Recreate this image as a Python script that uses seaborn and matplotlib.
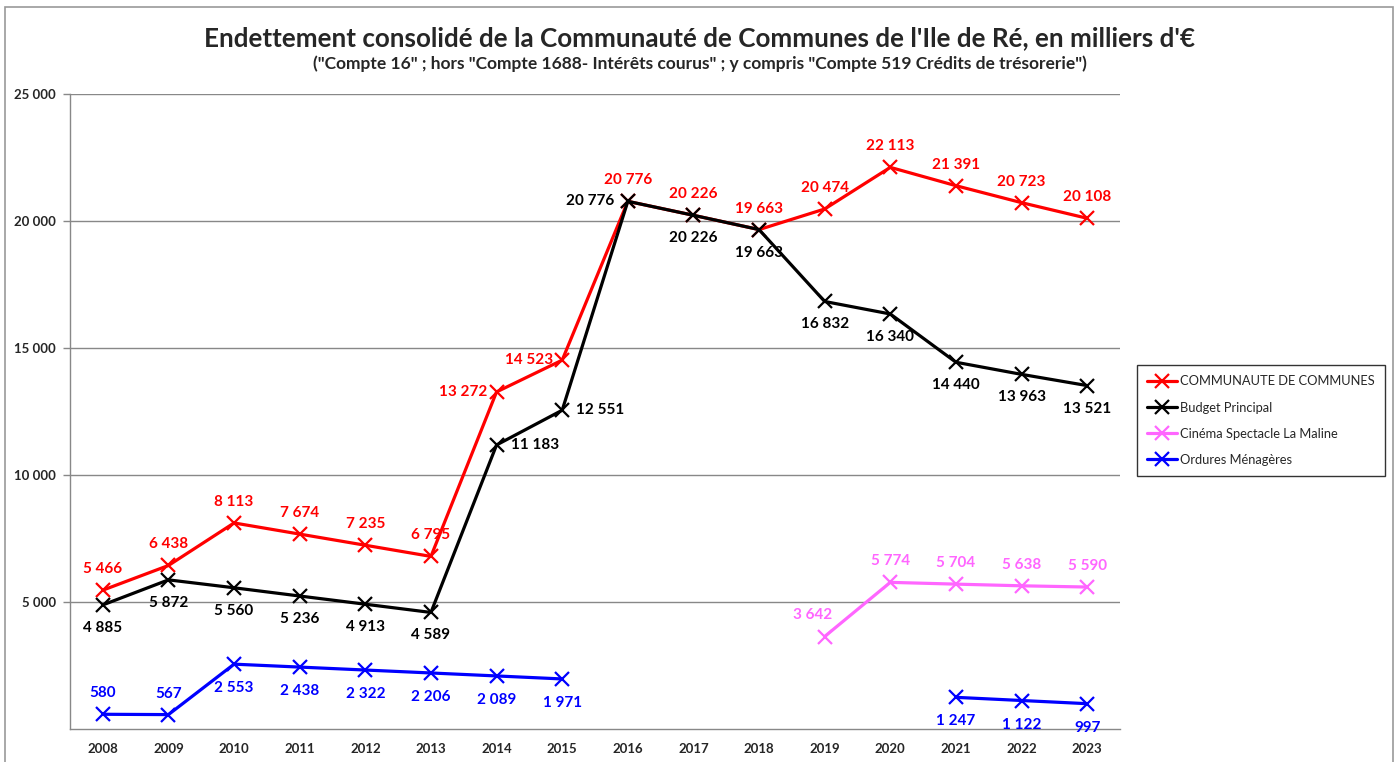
import numpy as np
import pandas as pd
import matplotlib
matplotlib.use("Agg")
import matplotlib.pyplot as plt
from matplotlib.lines import Line2D
from matplotlib.patches import Rectangle
import seaborn as sns

years = [str(y) for y in range(2008, 2024)]
communaute = [5466, 6438, 8113, 7674, 7235, 6795, 13272, 14523, 20776, 20226, 19663, 20474, 22113, 21391, 20723, 20108]
budget = [4885, 5872, 5560, 5236, 4913, 4589, 11183, 12551, 20776, 20226, 19663, 16832, 16340, 14440, 13963, 13521]
cinema = [np.nan] * 11 + [3642, 5774, 5704, 5638, 5590]
ordures = [580, 567, 2553, 2438, 2322, 2206, 2089, 1971, np.nan, np.nan, np.nan, np.nan, np.nan, 1247, 1122, 997]

series_names = ["COMMUNAUTE DE COMMUNES", "Budget Principal", "Cinéma Spectacle La Maline", "Ordures Ménagères"]
series_values = [communaute, budget, cinema, ordures]
colors = ["#FF0000", "#000000", "#FF66FF", "#0000FF"]

# label placement per series: (dx, dy, ha) in pixels
def place(name, i):
    if name == series_names[0]:
        if i in (6, 7):
            return (-9, 0, "right")
        return (0, 21, "center")
    if name == series_names[1]:
        if i in (6, 7):
            return (14, 0, "left")
        if i == 8:
            return (-14, 0, "right")
        return (0, -23, "center")
    if name == series_names[2]:
        if i == 11:
            return (-12, 22, "center")
        return (0, 21, "center")
    if i in (0, 1):
        return (0, 21, "center")
    return (0, -24, "center")

rows = []
for name, vals in zip(series_names, series_values):
    seg = 0
    prev_nan = True
    for i, v in enumerate(vals):
        if np.isnan(v):
            prev_nan = True
            continue
        if prev_nan:
            seg += 1
            prev_nan = False
        rows.append({"series": name, "x": i, "value": v, "segment": f"{name}-{seg}"})
df = pd.DataFrame(rows)

sns.set_style("white")
plt.rcParams["font.family"] = ["Lato", "DejaVu Sans"]

fig = plt.figure(figsize=(14, 7.62), dpi=100)
ax = fig.add_axes([0.05, 0.0433, 0.75, 0.8333])

sns.lineplot(data=df, x="x", y="value", hue="series", units="segment", estimator=None,
             palette=dict(zip(series_names, colors)), hue_order=series_names,
             marker="x", markersize=10, markeredgewidth=1.6, linewidth=2.3,
             legend=False, ax=ax, sort=True)
for ln in ax.lines:
    ln.set_markeredgecolor(ln.get_color())
    ln.set_markerfacecolor(ln.get_color())

for name, vals, col in zip(series_names, series_values, colors):
    for i, v in enumerate(vals):
        if np.isnan(v):
            continue
        dx, dy, ha = place(name, i)
        ax.annotate(f"{int(v):,}".replace(",", " "), (i, v), xytext=(dx, dy),
                    textcoords="offset pixels", ha=ha, va="center",
                    color=col, fontsize=11, fontweight="bold")

ax.set_xlim(-0.5, 15.5)
ax.set_ylim(0, 25000)
ax.set_xticks(range(16))
ax.set_xticklabels(years, fontsize=9.5, fontweight="bold")
ax.set_xticks(np.arange(-0.5, 16, 1), minor=True)
ax.tick_params(axis="x", which="major", length=0, pad=10)
ax.tick_params(axis="x", which="minor", length=5, color="#888888", width=1, direction="out")
yt = [5000, 10000, 15000, 20000, 25000]
ax.set_yticks(yt)
ax.set_yticklabels([f"{v:,}".replace(",", " ") for v in yt], fontsize=9.5, fontweight="bold")
ax.tick_params(axis="y", length=5, color="#888888", width=1, direction="out", pad=5, left=True)
ax.grid(axis="y", color="#888888", linewidth=1)
ax.set_xlabel("")
ax.set_ylabel("")
for s in ["top", "right"]:
    ax.spines[s].set_visible(False)
for s in ["left", "bottom"]:
    ax.spines[s].set_color("#888888")
    ax.spines[s].set_linewidth(1)

fig.text(0.5, 0.950, "Endettement consolidé de la Communauté de Communes de l'Ile de Ré, en milliers d'€",
         ha="center", va="center", fontsize=18.7, fontweight="bold")
fig.text(0.5, 0.916, "(\"Compte 16\" ; hors \"Compte 1688- Intérêts courus\" ; y compris \"Compte 519 Crédits de trésorerie\")",
         ha="center", va="center", fontsize=12.5, fontweight="bold")

handles = [Line2D([0], [0], color=c, lw=2.3, marker="x", markersize=10, markeredgewidth=1.6) for c in colors]
leg = fig.legend(handles, series_names, loc="upper left", bbox_to_anchor=(1137 / 1400, 1 - 365 / 762),
                 borderaxespad=0, frameon=True, fancybox=False, edgecolor="black", fontsize=9.3,
                 handlelength=2.3, handletextpad=0.25, labelspacing=1.1, borderpad=0.8)
leg.get_frame().set_linewidth(1)

fig.add_artist(Rectangle((5 / 1400, -0.02), 1388 / 1400, 1.02 - 7 / 762, transform=fig.transFigure,
                         fill=False, edgecolor="#999999", linewidth=1.2))

fig.savefig("out.png", dpi=100)
